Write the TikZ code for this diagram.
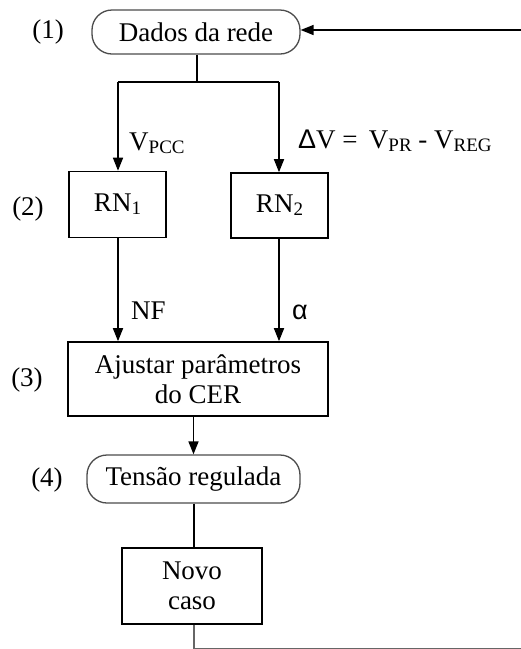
\documentclass[tikz,border=0pt]{standalone}
\usepackage{fontspec}
\setmainfont{Liberation Serif}
\newfontfamily\greekfont{Liberation Sans}
\usetikzlibrary{arrows.meta}
\newcommand{\lowsub}[1]{\raisebox{-0.12em}{\fontsize{19}{19}\selectfont #1}}
\tikzset{
  x=1pt, y=-1pt,
  every node/.style={font=\fontsize{27}{30}\selectfont, text=black},
  wire/.style={line width=1.6pt, draw=black},
  flow/.style={wire, -{Triangle[length=13pt,width=10pt]}},
  term/.style={draw=black!70, line width=1.3pt, rounded corners=20pt, inner sep=0pt},
  proc/.style={draw=black, line width=1.6pt, inner sep=0pt, align=center},
  tag/.style={inner sep=0pt},
}
\begin{document}
\begin{tikzpicture}
\useasboundingbox (0,0) rectangle (521,649);

% blocks
\node[term, minimum width=208pt, minimum height=44pt] (dados) at (196,32) {Dados da rede};
\node[proc, minimum width=97pt, minimum height=66pt] (rn1) at (117.5,204.5) {RN\lowsub{1}};
\node[proc, minimum width=97pt, minimum height=65pt] (rn2) at (279.5,205.5) {RN\lowsub{2}};
\node[proc, minimum width=260pt, minimum height=74pt, font=\fontsize{27}{30}\selectfont] (ajuste) at (198,379) {Ajustar parâmetros\\do CER};
\node[term, minimum width=213pt, minimum height=48pt] (tensao) at (193.5,479) {Tensão regulada};
\node[proc, minimum width=140pt, minimum height=76pt, font=\fontsize{27}{30}\selectfont] (novo) at (192,586) {Novo\\caso};

% step numbers
\node[tag] (n1) at (48,32) {(1)};
\node[tag] (n2) at (28,209) {(2)};
\node[tag] (n3) at (27,380) {(3)};
\node[tag] (n4) at (47,480) {(4)};

% signal labels
\node[tag, anchor=west] (lpcc) at (129,143) {V\lowsub{PCC}};
\node[tag, anchor=west] (ldv) at (298,141) {{\greekfont Δ}V =\, V\lowsub{PR} - V\lowsub{REG}};
\node[tag, anchor=west] (lnf) at (131,311) {NF};
\node[tag, anchor=west] (lal) at (292,312) {\greekfont α};

% branching of the network data
\coordinate (split) at (197,82);
\coordinate (splitL) at (118,82);
\coordinate (splitR) at (279,82);
\draw[wire] (dados.south -| split) -- (split);
\draw[wire] (splitL) -- (splitR);
\draw[flow] (splitL) -- (splitL |- rn1.north);
\draw[flow] (splitR) -- (splitR |- rn2.north);

% network outputs into the adjustment block
\draw[flow] (rn1.south -| splitL) -- (splitL |- ajuste.north);
\draw[flow] (rn2.south -| splitR) -- (splitR |- ajuste.north);

% downstream chain
\draw[flow] (ajuste.south -| tensao) -- (tensao.north);
\draw[wire] (tensao.south -| novo.south) ++(2,0) coordinate (t1) -- (t1 |- novo.north);

% feedback loop back to the network data
\coordinate (fbB) at (194,648.3);
\coordinate (fbBR) at (530,648.3);
\coordinate (fbTR) at (530,30);
\draw[wire, draw=black!60] (novo.south -| fbB) -- (fbB) -- (fbBR) -- (fbTR);
\draw[flow] (fbTR) -- (fbTR -| dados.east);
\end{tikzpicture}
\end{document}
